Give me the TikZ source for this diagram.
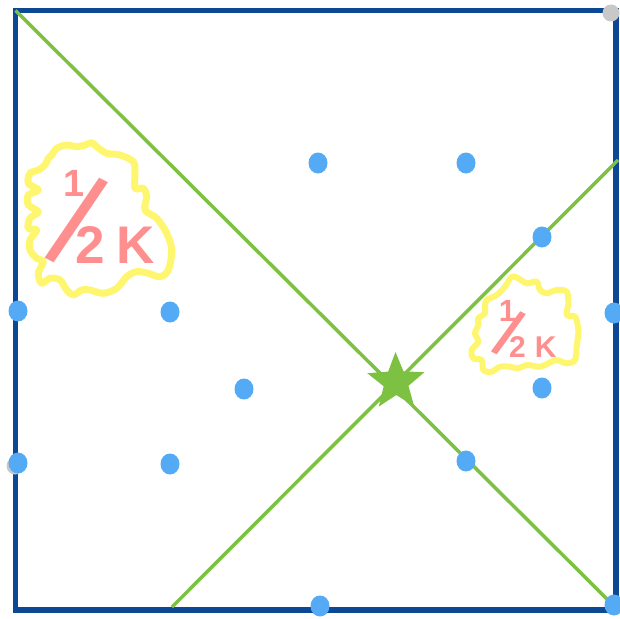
\documentclass[tikz,border=0pt]{standalone}
\usepackage{fontspec}
\usepackage{graphicx}
\newfontfamily\handfont{Liberation Sans}
\usetikzlibrary{shapes.geometric}
\definecolor{frameblue}{RGB}{12,72,148}
\definecolor{lgreen}{RGB}{125,193,66}
\definecolor{dotblue}{RGB}{85,170,245}
\definecolor{dotgray}{RGB}{200,200,200}
\definecolor{hlyellow}{RGB}{255,246,112}
\definecolor{salmon}{RGB}{255,142,142}
% place #3 with its box centre at (#1 right, #2 up) of the current point
\newcommand\putc[3]{\rlap{\kern#1\relax\raisebox{#2}{\makebox[0pt][c]{\raisebox{-0.5\height}{\raisebox{\depth}{#3}}}}}}
\begin{document}
\begin{tikzpicture}[x=1pt,y=-1pt,
  frame/.style={draw=frameblue,line width=5.5pt},
  diag/.style={draw=lgreen,line width=3.5pt},
  dot/.style={fill=dotblue,ellipse,minimum width=19pt,minimum height=21pt,inner sep=0pt},
  graydot/.style={fill=dotgray,circle,minimum size=17pt,inner sep=0pt},
  blob/.style={draw=hlyellow,line width=7pt,line join=round},
  lbl/.style={text=salmon,font=\handfont\bfseries,inner sep=0pt,anchor=base west},
  starmark/.style={star,star points=5,star point ratio=2.3,minimum size=60pt,fill=lgreen,inner sep=0pt}]
\useasboundingbox (0,0) rectangle (620,618);
% frame
\coordinate (tl) at (15.5,10.5);
\coordinate (tr) at (616,10.5);
\coordinate (br) at (616,610);
\coordinate (bl) at (15.5,610);
\draw[frame] (tl) -- (tr) -- (br) -- (bl) -- cycle;
% gray dots
\node[graydot] (g1) at (611,13) {};
\node[graydot] (g2) at (15,466) {};
% diagonals
\coordinate (la) at (15.5,10.5);
\coordinate (lb) at (614,606);
\coordinate (ma) at (172,607);
\coordinate (mb) at (618,160);
\draw[diag] (la) -- (lb);
\draw[diag] (ma) -- (mb);
% blobs
\draw[blob] plot[smooth cycle,tension=0.55] coordinates {
(51.7,155) (56.7,148.3) (66.7,145) (76.7,146.7) (85,145) (91.7,142.7) (96.7,146.7)
(106.7,153.3) (120,155) (133.3,161.7) (135,173.3) (135,188.3) (143.3,188.3) (146.7,196.7)
(145,210) (156.7,218.3) (166.7,233.3) (171.7,250) (168.3,270) (160,276.7) (148.3,273.3)
(136.7,271.7) (126.7,276.7) (116.7,288.3) (103.3,293.3) (90,290) (81.7,290) (73.3,295)
(66.7,290) (60,280) (50,278.3) (41.7,283.3) (38.3,273.3) (43.3,261.7) (36.7,258.3)
(30,250) (30,240) (36.7,230) (28.3,228.3) (30,218.3) (38.3,211.7) (28.3,205) (28.3,195)
(38.3,190) (28.3,183.3) (30,173.3) (38.3,170) (45,165) (48.3,158.3)};
\draw[blob,line width=6pt] plot[smooth cycle,tension=0.55] coordinates {
(486.7,300) (496.7,295) (505,286.7) (511.7,276.7) (518.3,278.3) (526.7,283.3) (536.7,281.7)
(540,290) (546.7,293.3) (556.7,290) (566.7,291.7) (568.3,303.3) (566.7,315) (575,316.7)
(578.3,330) (576.7,346.7) (575,360) (566.7,363.3) (556.7,360) (548.3,363.3) (540,366.7)
(526.7,365) (518.3,368.3) (510,366.7) (500,366.7) (491.7,371.7) (483.3,370) (481.7,360)
(473.3,358.3) (471.7,350) (478.3,341.7) (475,333.3) (478.3,325) (478.3,318.3) (485,313.3)
(485,306.7)};
% dots
\node[dot] (d1) at (318,163) {};
\node[dot] (d2) at (466,163) {};
\node[dot] (d3) at (542,237) {};
\node[dot] (d4) at (18,311) {};
\node[dot] (d5) at (170,312) {};
\node[dot] (d6) at (614,313) {};
\node[dot] (d7) at (244,389) {};
\node[dot] (d8) at (542,388) {};
\node[dot] (d9) at (18,463) {};
\node[dot] (d10) at (170,464) {};
\node[dot] (d11) at (466,461) {};
\node[dot] (d12) at (320,606) {};
\node[dot] (d13) at (614,605) {};
% star
\node[starmark,rotate=1] (st) at (396,382) {};
% labels
\node[lbl] (k1) at (75.5,263) {\fontsize{53}{53}\selectfont
  \putc{-1.5pt}{79.5pt}{\fontsize{38}{38}\selectfont 1}%
  \putc{1.5pt}{43pt}{\rotatebox{-27}{\scalebox{1}[1.5]{\fontsize{86}{86}\selectfont /}}}%
  2\kern11pt K};
\node[lbl] (k2) at (509,357) {\fontsize{30}{30}\selectfont
  \putc{-1.7pt}{46pt}{\fontsize{30.7}{30.7}\selectfont 1}%
  \putc{0pt}{24pt}{\rotatebox{-27}{\scalebox{1}[1.2]{\fontsize{55}{55}\selectfont /}}}%
  2\kern9pt K};
\end{tikzpicture}
\end{document}
